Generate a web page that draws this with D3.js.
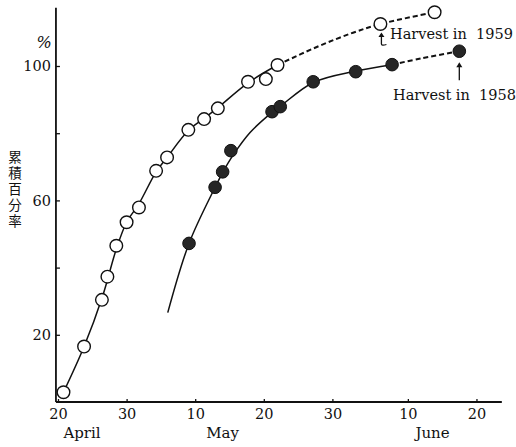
<!DOCTYPE html>
<html><head><meta charset="utf-8">
<script src="https://cdn.jsdelivr.net/npm/d3@7"></script>
<style>html,body{margin:0;padding:0;background:#fff;} svg{display:block;}</style>
</head><body>
<svg id="c" width="516" height="447"></svg>
<script>
// Days counted from April 1 (May 10 = 40, June 10 = 71)
const days1959 = [20.8,23.8,26.4,27.2,28.5,30.0,31.8,34.3,35.9,39.0,41.3,43.3,47.7,50.3,52.0,67.0,74.9];
const pct1959  = [2.9,16.5,30.4,37.3,46.5,53.5,57.9,68.8,72.8,81.0,84.2,87.4,95.3,96.1,100.3,112.5,116.0];
const days1958 = [39.1,42.9,44.0,45.2,51.2,52.4,57.2,63.4,68.7,78.5];
const pct1958  = [47.2,63.9,68.5,74.8,86.4,87.9,95.3,98.3,100.4,104.4];

const curve1959Days = [20.8,23.8,26.5,28.5,30.0,31.8,34.3,35.9,39.0,41.3,43.3,47.7,52.0];
const curve1959Pct  = [2.9,16.5,31.5,45.5,53.5,59.0,68.5,72.8,80.8,84.4,87.6,95.0,100.3];
const dash1959Days  = [52.0,58.0,63.0,67.0,74.9];
const dash1959Pct   = [100.3,105.9,109.9,112.5,116.0];
const curve1958Days = [36.0,39.1,42.9,44.0,45.5,48.0,51.2,52.4,57.2,63.4,68.7];
const curve1958Pct  = [26.6,47.2,63.9,68.3,73.4,80.2,86.2,88.0,95.1,98.5,100.4];
const dash1958Days  = [68.7,73.0,78.5];
const dash1958Pct   = [100.4,102.3,104.4];

const xTickDays   = [20,30,40,50,60,71,81];
const xTickLabels = ["20","30","10","20","30","10","20"];
const monthNames  = ["April","May","June"];
const monthDays   = [23.5,44.0,74.6];
const yTicks      = [20,40,60,80,100];
const yLabelled   = [20,60,100];
const yTitle      = "累積百分率";
const unitLabel   = "%";
const harvest1959 = "Harvest in 1959";
const harvest1958 = "Harvest in 1958";
const xExtent = [19.7, 84.7];
const yTop = 117.3;

const svg = d3.select("#c");
const x = d3.scaleLinear().domain([20,81]).range([58, 58 + 61*6.86]);
const y = d3.scaleLinear().domain([0,100]).range([402,66]);
const serif = "'DejaVu Serif', 'Liberation Serif', serif";

// axes lines
svg.append("line").attr("x1", x(xExtent[0])).attr("x2", x(xExtent[0]))
  .attr("y1", y(0)).attr("y2", y(yTop)).attr("stroke","#111").attr("stroke-width",1.8);
svg.append("line").attr("x1", x(xExtent[0])).attr("x2", x(xExtent[1]))
  .attr("y1", y(0)).attr("y2", y(0)).attr("stroke","#111").attr("stroke-width",1.8);

const yAxis = svg.append("g").attr("transform", `translate(${x(xExtent[0])},0)`)
  .call(d3.axisLeft(y).tickValues(yTicks).tickSizeInner(-4).tickSizeOuter(0).tickPadding(5)
        .tickFormat(d => yLabelled.includes(d) ? d : ""));
yAxis.select(".domain").remove();
yAxis.selectAll("line").attr("stroke","#111").attr("stroke-width",1.3);
yAxis.selectAll("text").attr("font-family", serif).attr("font-size", 14.5).attr("fill","#111");

const xAxis = svg.append("g").attr("transform", `translate(0,${y(0)})`)
  .call(d3.axisBottom(x).tickValues(xTickDays).tickSizeInner(-3).tickSizeOuter(0).tickPadding(7)
        .tickFormat((d,i) => xTickLabels[i]));
xAxis.select(".domain").remove();
xAxis.selectAll("line").attr("stroke","#111").attr("stroke-width",1.3);
xAxis.selectAll("text").attr("font-family", serif).attr("font-size", 14.5).attr("fill","#111");

svg.selectAll("text.month").data(monthNames).enter().append("text")
  .attr("class","month").attr("x",(d,i)=>x(monthDays[i])).attr("y",438)
  .attr("text-anchor","middle").attr("font-family",serif).attr("font-size",15).attr("fill","#111")
  .text(d=>d);

// y title: single vertical text
svg.append("text").attr("x",15).attr("y",150)
  .style("writing-mode","vertical-rl").style("text-orientation","upright")
  .attr("font-family","'Noto Sans CJK JP', sans-serif")
  .attr("font-size",13.5).attr("letter-spacing",2.5).attr("fill","#111").text(yTitle);

svg.append("text").attr("x",44).attr("y",48).attr("text-anchor","middle")
  .attr("font-family",serif).attr("font-style","italic").attr("font-size",16).attr("fill","#111")
  .text(unitLabel);

// curves
const line = d3.line().x(d=>x(d[0])).y(d=>y(d[1])).curve(d3.curveCatmullRom.alpha(0.5));
const zip = (a,b) => a.map((v,i)=>[v,b[i]]);
svg.append("path").attr("d", line(zip(curve1959Days,curve1959Pct)))
  .attr("fill","none").attr("stroke","#111").attr("stroke-width",1.5);
svg.append("path").attr("d", line(zip(dash1959Days,dash1959Pct)))
  .attr("fill","none").attr("stroke","#111").attr("stroke-width",2).attr("stroke-dasharray","5,3");
svg.append("path").attr("d", line(zip(curve1958Days,curve1958Pct)))
  .attr("fill","none").attr("stroke","#111").attr("stroke-width",1.5);
svg.append("path").attr("d", line(zip(dash1958Days,dash1958Pct)))
  .attr("fill","none").attr("stroke","#111").attr("stroke-width",2).attr("stroke-dasharray","5,3");

// points
svg.selectAll("circle.o").data(zip(days1959,pct1959)).enter().append("circle")
  .attr("class","o").attr("cx",d=>x(d[0])).attr("cy",d=>y(d[1])).attr("r",6.3)
  .attr("fill","#fff").attr("stroke","#111").attr("stroke-width",1.4);
svg.selectAll("circle.f").data(zip(days1958,pct1958)).enter().append("circle")
  .attr("class","f").attr("cx",d=>x(d[0])).attr("cy",d=>y(d[1])).attr("r",6.3)
  .attr("fill","#262626").attr("stroke","#111").attr("stroke-width",1);

// annotations
const hx59 = x(days1959[15]), hy59 = y(pct1959[15]);
svg.append("path").attr("d",`M${hx59+1},${hy59+20} L${hx59+1},${hy59+10}`)
  .attr("stroke","#111").attr("stroke-width",1.3).attr("fill","none");
svg.append("path").attr("d",`M${hx59+1},${hy59+20} Q${hx59+1},${hy59+22} ${hx59+6},${hy59+20.5}`)
  .attr("stroke","#111").attr("stroke-width",1.2).attr("fill","none");
svg.append("path").attr("d",`M${hx59-2},${hy59+13} L${hx59+1},${hy59+8.5} L${hx59+4},${hy59+13} Z`)
  .attr("fill","#111");
svg.append("text").attr("x",390).attr("y",39).attr("font-family",serif).attr("font-size",14.5)
  .attr("fill","#111").attr("xml:space","preserve").text(harvest1959.replace(" 1959","  1959"));

const hx58 = x(days1958[9]), hy58 = y(pct1958[9]);
svg.append("path").attr("d",`M${hx58},${hy58+29} L${hx58},${hy58+14}`)
  .attr("stroke","#111").attr("stroke-width",1.3).attr("fill","none");
svg.append("path").attr("d",`M${hx58-3},${hy58+16} L${hx58},${hy58+11} L${hx58+3},${hy58+16} Z`)
  .attr("fill","#111");
svg.append("text").attr("x",393).attr("y",100).attr("font-family",serif).attr("font-size",14.5)
  .attr("fill","#111").attr("xml:space","preserve").text(harvest1958.replace(" 1958","  1958"));
</script>
</body></html>
